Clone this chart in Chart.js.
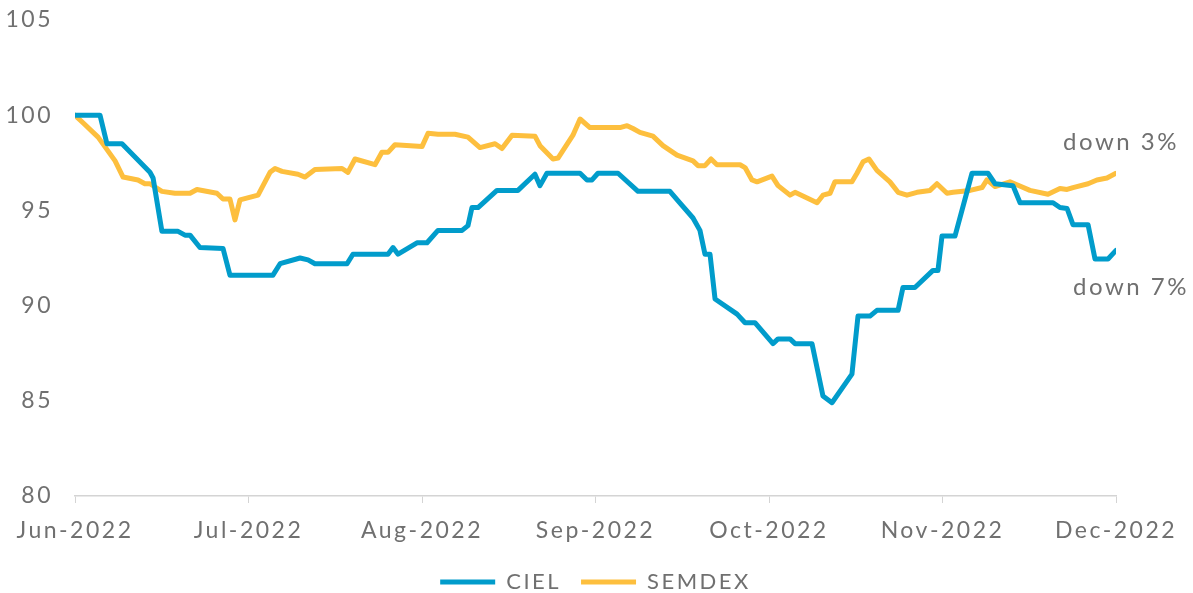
<!DOCTYPE html>
<html>
<head>
<meta charset="utf-8">
<script src="https://cdn.jsdelivr.net/npm/chart.js@4"></script>
<style>
  html, body { margin: 0; padding: 0; background: #fff; }
  #wrap { width: 1193px; height: 593px; }
</style>
</head>
<body>
<div id="wrap"><canvas id="chart"></canvas></div>
<script>
// x positions are in months since Jun-2022 (0 = Jun, 6 = Dec)
const monthLabels = ["Jun-2022", "Jul-2022", "Aug-2022", "Sep-2022", "Oct-2022", "Nov-2022", "Dec-2022"];
const yTicks = [80, 85, 90, 95, 100, 105];

const cielX = [0.000, 0.144, 0.184, 0.271, 0.432, 0.450, 0.501, 0.594, 0.634, 0.663, 0.720, 0.853, 0.893, 1.141,
  1.182, 1.297, 1.343, 1.383, 1.568, 1.602, 1.804, 1.833, 1.862, 1.971, 2.029, 2.092, 2.231, 2.265, 2.288, 2.323,
  2.432, 2.553, 2.651, 2.680, 2.720, 2.911, 2.951, 2.980, 3.014, 3.130, 3.245, 3.429, 3.476, 3.562, 3.602, 3.631,
  3.660, 3.689, 3.816, 3.862, 3.919, 4.023, 4.052, 4.121, 4.150, 4.248, 4.311, 4.363, 4.478, 4.513, 4.582, 4.622,
  4.744, 4.772, 4.841, 4.945, 4.974, 4.997, 5.072, 5.170, 5.262, 5.303, 5.406, 5.447, 5.637, 5.677, 5.718, 5.752,
  5.839, 5.879, 5.954, 6.000];
const cielY = [100.0, 100.0, 98.5, 98.5, 97.0, 96.7, 93.9, 93.9, 93.7, 93.7, 93.05, 93.0, 91.6, 91.6,
  92.2, 92.5, 92.4, 92.2, 92.2, 92.7, 92.7, 93.05, 92.7, 93.3, 93.3, 93.95, 93.95, 94.2, 95.15, 95.15,
  96.05, 96.05, 96.9, 96.3, 96.95, 96.95, 96.6, 96.6, 96.95, 96.95, 96.0, 96.0, 95.5, 94.6, 93.95, 92.7,
  92.7, 90.35, 89.55, 89.1, 89.1, 88.0, 88.25, 88.25, 88.0, 88.0, 85.25, 84.9, 86.4, 89.45, 89.45, 89.75,
  89.75, 90.95, 90.95, 91.85, 91.85, 93.65, 93.65, 96.95, 96.95, 96.4, 96.3, 95.4, 95.4, 95.15, 95.1, 94.25,
  94.25, 92.45, 92.45, 92.9];

const semdexX = [0.000, 0.046, 0.133, 0.231, 0.277, 0.363, 0.403, 0.432, 0.501, 0.576, 0.663, 0.703, 0.818, 0.853,
  0.893, 0.922, 0.951, 1.055, 1.124, 1.153, 1.193, 1.285, 1.326, 1.383, 1.539, 1.573, 1.614, 1.729, 1.769, 1.804,
  1.844, 2.000, 2.035, 2.092, 2.190, 2.265, 2.334, 2.421, 2.461, 2.519, 2.651, 2.680, 2.755, 2.784, 2.870, 2.911,
  2.968, 3.141, 3.182, 3.216, 3.256, 3.331, 3.389, 3.470, 3.562, 3.591, 3.631, 3.666, 3.700, 3.833, 3.862, 3.902,
  3.931, 4.017, 4.052, 4.121, 4.150, 4.277, 4.311, 4.352, 4.380, 4.478, 4.507, 4.542, 4.576, 4.622, 4.697, 4.744,
  4.795, 4.853, 4.928, 4.968, 5.026, 5.061, 5.159, 5.228, 5.256, 5.303, 5.389, 5.429, 5.504, 5.608, 5.677, 5.718,
  5.752, 5.839, 5.890, 5.948, 6.000];
const semdexY = [100.0, 99.6, 98.85, 97.6, 96.75, 96.6, 96.4, 96.4, 96.0, 95.9, 95.9, 96.1, 95.9, 95.6,
  95.6, 94.5, 95.55, 95.8, 97.0, 97.2, 97.05, 96.9, 96.75, 97.15, 97.2, 97.0, 97.7, 97.4, 98.05, 98.05,
  98.45, 98.35, 99.05, 99.0, 99.0, 98.85, 98.3, 98.5, 98.25, 98.95, 98.9, 98.4, 97.7, 97.75, 98.95, 99.8,
  99.35, 99.35, 99.45, 99.3, 99.1, 98.9, 98.4, 97.9, 97.6, 97.35, 97.35, 97.7, 97.4, 97.4, 97.25, 96.6,
  96.5, 96.8, 96.3, 95.8, 95.95, 95.4, 95.8, 95.9, 96.5, 96.5, 96.95, 97.55, 97.7, 97.1, 96.5, 95.95,
  95.8, 95.95, 96.05, 96.4, 95.9, 95.95, 96.05, 96.2, 96.6, 96.25, 96.5, 96.35, 96.05, 95.85, 96.15, 96.1,
  96.2, 96.4, 96.6, 96.7, 96.95];

const BLUE = '#019ccb';
const YELLOW = '#fdbf3e';
const TEXT = '#707070';
const FONT = 'Lato, "Noto Sans", sans-serif';
const SPACING = '2.5px';

const toPoints = (xs, ys) => xs.map((x, i) => ({ x: x, y: ys[i] }));

// wider letter spacing, the original font is a wide geometric face
const spacing = {
  id: 'spacing',
  beforeLayout(chart) { chart.ctx.letterSpacing = SPACING; },
  beforeDraw(chart) { chart.ctx.letterSpacing = SPACING; },
  // centre the legend under the plot area rather than the whole canvas
  afterLayout(chart) {
    if (chart.legend) {
      chart.legend.left = chart.chartArea.left;
      chart.legend.right = chart.chartArea.right;
    }
  }
};

// "down 3%" / "down 7%" labels at the right end of the lines
const endNotes = {
  id: 'endNotes',
  afterDraw(chart) {
    const { ctx, chartArea } = chart;
    ctx.save();
    ctx.letterSpacing = SPACING;
    ctx.font = '24px ' + FONT;
    ctx.fillStyle = TEXT;
    ctx.textAlign = 'right';
    ctx.textBaseline = 'middle';
    ctx.fillText('down 3%', chartArea.right + 63, 142);
    ctx.fillText('down 7%', chartArea.right + 73, 287);
    ctx.restore();
  }
};

new Chart(document.getElementById('chart'), {
  type: 'line',
  data: {
    datasets: [
      { label: 'CIEL', data: toPoints(cielX, cielY), borderColor: BLUE, backgroundColor: BLUE },
      { label: 'SEMDEX', data: toPoints(semdexX, semdexY), borderColor: YELLOW, backgroundColor: YELLOW }
    ]
  },
  options: {
    responsive: true,
    maintainAspectRatio: false,
    animation: false,
    layout: { padding: { top: 20, right: 77, bottom: -10, left: 0 } },
    elements: {
      line: { borderWidth: 5, tension: 0, borderJoinStyle: 'round', borderCapStyle: 'round' },
      point: { radius: 0, hoverRadius: 0 }
    },
    scales: {
      x: {
        type: 'linear',
        min: 0,
        max: 6,
        afterBuildTicks: s => { s.ticks = monthLabels.map((_, i) => ({ value: i })); },
        afterFit: s => { s.height = 55; },
        ticks: {
          autoSkip: false,
          maxRotation: 0,
          padding: 14,
          color: TEXT,
          font: { family: FONT, size: 23 },
          callback: (v, i) => monthLabels[i]
        },
        grid: { drawOnChartArea: false, drawTicks: true, tickLength: 7, color: '#d4d4d4' },
        border: { display: true, color: '#d4d4d4', width: 1.5 }
      },
      y: {
        min: 80,
        max: 105,
        afterBuildTicks: s => { s.ticks = yTicks.map(v => ({ value: v })); },
        afterFit: s => { s.width = 75; s.paddingTop = 0; s.paddingBottom = 0; },
        ticks: {
          padding: 14,
          color: TEXT,
          font: { family: FONT, size: 23 }
        },
        grid: { display: false },
        border: { display: false }
      }
    },
    plugins: {
      legend: {
        position: 'bottom',
        labels: {
          boxWidth: 55,
          boxHeight: 5,
          padding: 20,
          color: TEXT,
          font: { family: FONT, size: 22 },
          generateLabels: c => Chart.defaults.plugins.legend.labels.generateLabels(c)
            .map(l => Object.assign(l, { lineWidth: 0 }))
        }
      },
      tooltip: { enabled: false }
    }
  },
  plugins: [spacing, endNotes]
});
</script>
</body>
</html>
